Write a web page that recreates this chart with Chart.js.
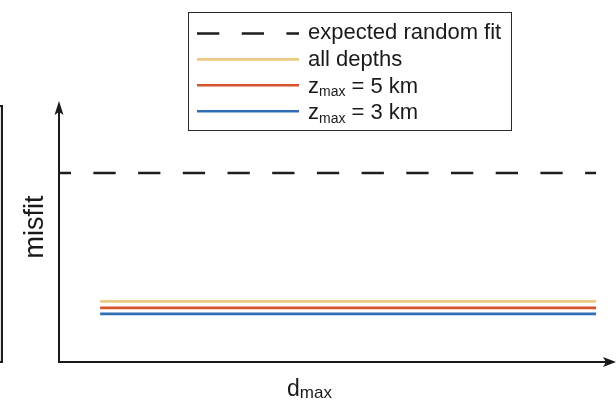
<!DOCTYPE html>
<html><head><meta charset="utf-8">
<script src="https://cdn.jsdelivr.net/npm/chart.js@4/dist/chart.umd.min.js"></script>
<style>
html,body{margin:0;padding:0;background:#fff;}
#wrap{position:relative;width:616px;height:402px;overflow:hidden;}
#frag{position:absolute;left:-20px;top:105px;width:19px;height:254px;border:2px solid #1c1c1c;background:#e4e4e4;}
canvas{position:absolute;left:0;top:0;}
</style></head><body>
<div id="wrap"><div id="frag"></div><canvas id="c" width="616" height="402"></canvas></div>
<script>
// ---- data ----
const seriesLabels = ['expected random fit', 'all depths', 'z_max = 5 km', 'z_max = 3 km'];
const seriesColors = ['#1e1e1e', '#ECC982', '#D5532B', '#2F6EB5'];
const xStart = [0, 7.4, 7.4, 7.4];
const xEnd = [96.6, 96.6, 96.6, 96.6];
const misfitValues = [72.7, 23.3, 20.8, 18.5];
const xAxisTitle = 'd_max';
const yAxisTitle = 'misfit';

const FONT = '"Liberation Sans", Arial, Helvetica, sans-serif';

const datasets = seriesLabels.map((lab, i) => ({
  label: lab,
  data: [{x: xStart[i], y: misfitValues[i]}, {x: xEnd[i], y: misfitValues[i]}],
  borderColor: seriesColors[i],
  borderWidth: 2.6,
  borderDash: i === 0 ? [22.3, 22.4] : [],
  borderDashOffset: i === 0 ? 10.3 : 0,
  pointRadius: 0,
  borderCapStyle: 'butt',
  fill: false,
  order: seriesLabels.length - i
}));

// draw text with optional "_sub" subscript
function drawRich(ctx, text, x, y, size, subSize, subDrop) {
  const m = text.match(/^([^_]*)_(\w+)(.*)$/);
  ctx.textBaseline = 'alphabetic';
  ctx.textAlign = 'left';
  if (!m) { ctx.font = size + 'px ' + FONT; ctx.fillText(text, x, y); return; }
  ctx.font = size + 'px ' + FONT;
  ctx.fillText(m[1], x, y); x += ctx.measureText(m[1]).width;
  ctx.font = subSize + 'px ' + FONT;
  ctx.fillText(m[2], x, y + subDrop); x += ctx.measureText(m[2]).width;
  ctx.font = size + 'px ' + FONT;
  ctx.fillText(m[3], x, y);
}

const decor = {
  id: 'decor',
  beforeDatasetsDraw(chart) {
    const {ctx, chartArea: a} = chart;
    ctx.save();
    ctx.strokeStyle = '#1a1a1a'; ctx.fillStyle = '#1a1a1a'; ctx.lineWidth = 2;
    ctx.beginPath();
    ctx.moveTo(a.left, a.top + 8); ctx.lineTo(a.left, a.bottom); ctx.lineTo(a.right - 8, a.bottom);
    ctx.stroke();
    // arrowheads
    ctx.beginPath();
    ctx.moveTo(a.left, a.top - 1); ctx.lineTo(a.left - 4.5, a.top + 13); ctx.lineTo(a.left, a.top + 10); ctx.lineTo(a.left + 4.5, a.top + 13); ctx.closePath(); ctx.fill();
    ctx.beginPath();
    ctx.moveTo(a.right + 1, a.bottom); ctx.lineTo(a.right - 12, a.bottom - 5); ctx.lineTo(a.right - 9, a.bottom); ctx.lineTo(a.right - 12, a.bottom + 5); ctx.closePath(); ctx.fill();
    ctx.restore();
  },
  afterDraw(chart) {
    const {ctx, chartArea: a} = chart;
    ctx.save();
    ctx.fillStyle = '#1a1a1a';
    // y title
    ctx.save();
    ctx.translate(43, 227);
    ctx.rotate(-Math.PI / 2);
    ctx.font = '27px ' + FONT; ctx.textAlign = 'center'; ctx.textBaseline = 'alphabetic';
    ctx.fillText(yAxisTitle, 0, 0);
    ctx.restore();
    // x title
    drawRich(ctx, xAxisTitle, a.left + 228, 396, 23, 17, 2);
    // legend
    const bx = 188.5, by = 12.5, bw = 323, bh = 118;
    ctx.fillStyle = '#fff'; ctx.fillRect(bx, by, bw, bh);
    ctx.strokeStyle = '#2a2a2a'; ctx.lineWidth = 1; ctx.strokeRect(bx, by, bw, bh);
    chart.data.datasets.forEach((ds, i) => {
      const ly = 33.5 + i * 25.9;
      ctx.save();
      ctx.strokeStyle = ds.borderColor; ctx.lineWidth = 2.6;
      ctx.setLineDash(ds.borderDash || []);
      ctx.beginPath(); ctx.moveTo(197, ly); ctx.lineTo(299, ly); ctx.stroke();
      ctx.restore();
      ctx.fillStyle = '#1a1a1a';
      drawRich(ctx, ds.label, 308, ly + 5.5 + i * 0.9, 22, 14, 3.3);
    });
    ctx.restore();
  }
};

new Chart(document.getElementById('c'), {
  type: 'line',
  data: { datasets },
  options: {
    responsive: false,
    animation: false,
    layout: { padding: { left: 59, right: 1, top: 102, bottom: 40 } },
    scales: {
      x: { type: 'linear', min: 0, max: 100, display: false },
      y: { type: 'linear', min: 0, max: 100, display: false }
    },
    plugins: { legend: { display: false }, tooltip: { enabled: false } }
  },
  plugins: [decor]
});
</script>
</body></html>
